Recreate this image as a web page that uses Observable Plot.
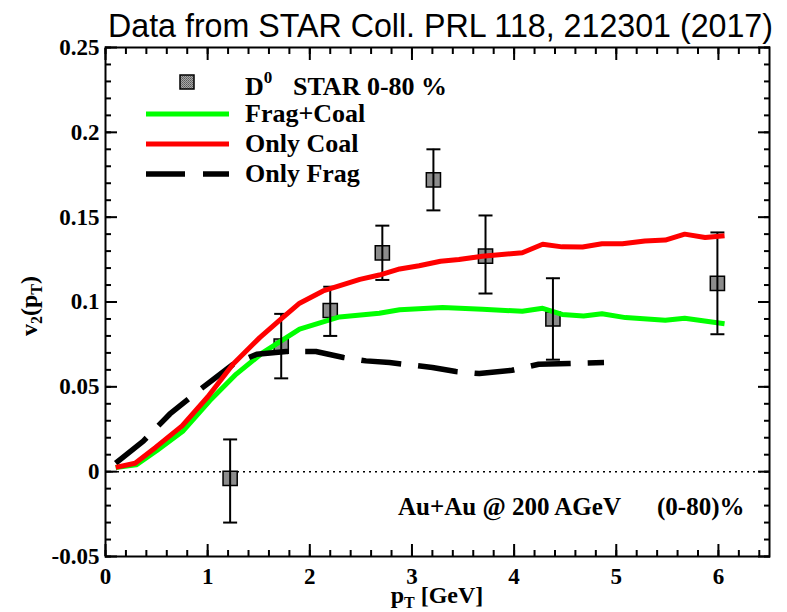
<!DOCTYPE html>
<html><head><meta charset="utf-8">
<script src="https://cdn.jsdelivr.net/npm/d3@7"></script>
<script src="https://cdn.jsdelivr.net/npm/@observablehq/plot@0.6"></script>
<style>body{margin:0;background:#fff}</style>
</head><body><div id="chart"></div>
<script>
// STAR D0 data (0-80%)
const starPt = [1.22, 1.72, 2.20, 2.71, 3.21, 3.72, 4.38, 5.99];
const starV2 = [-0.004, 0.074, 0.095, 0.129, 0.172, 0.127, 0.090, 0.111];
const starLo = [-0.030, 0.055, 0.080, 0.113, 0.154, 0.105, 0.066, 0.081];
const starHi = [0.019, 0.093, 0.109, 0.145, 0.190, 0.151, 0.114, 0.141];

// Frag+Coal
const fcPt = [0.1, 0.3, 0.5, 0.76, 1.02, 1.28, 1.54, 1.9, 2.29, 2.68, 2.88, 3.30, 3.69, 4.08, 4.28, 4.47, 4.68, 4.86, 5.09, 5.48, 5.67, 6.06];
const fcV2 = [0.0025, 0.004, 0.0124, 0.024, 0.0418, 0.0575, 0.0702, 0.084, 0.0912, 0.0934, 0.0954, 0.0967, 0.0957, 0.0945, 0.0963, 0.0927, 0.0918, 0.0931, 0.0908, 0.0892, 0.0904, 0.0872];

// Only Coal
const coPt = [0.1, 0.29, 0.49, 0.75, 1.0, 1.25, 1.51, 1.7, 1.9, 2.13, 2.49, 2.68, 2.88, 3.07, 3.28, 3.46, 3.69, 4.08, 4.28, 4.47, 4.67, 4.86, 5.06, 5.28, 5.48, 5.67, 5.87, 6.06];
const coV2 = [0.0025, 0.005, 0.0143, 0.027, 0.044, 0.0635, 0.079, 0.089, 0.0993, 0.1065, 0.1133, 0.1159, 0.1195, 0.1214, 0.124, 0.125, 0.127, 0.129, 0.134, 0.1325, 0.1324, 0.1343, 0.1343, 0.136, 0.1365, 0.140, 0.138, 0.139];

// Only Frag
const frPt = [0.1, 0.37, 0.63, 0.93, 1.25, 1.48, 1.77, 2.06, 2.33, 2.55, 2.78, 3.2, 3.43, 3.66, 3.98, 4.24, 4.54, 4.88];
const frV2 = [0.005, 0.018, 0.034, 0.0486, 0.0633, 0.0692, 0.0708, 0.0708, 0.0673, 0.0653, 0.0643, 0.0614, 0.059, 0.0578, 0.0598, 0.0633, 0.0637, 0.0643];

// Axis ticks
const xMajor = [0, 1, 2, 3, 4, 5, 6];
const xMinor = d3.range(0, 6.5001, 0.2).map(d => +d.toFixed(2));
const yMajor = [-0.05, 0, 0.05, 0.1, 0.15, 0.2, 0.25];
const yMinor = d3.range(-0.05, 0.2501, 0.01).map(d => +d.toFixed(3));

const stars = starPt.map((x, i) => ({x, y: starV2[i], lo: starLo[i], hi: starHi[i]}));
const toRows = (xs, ys) => xs.map((x, i) => ({x, y: ys[i]}));
const fragCoal = toRows(fcPt, fcV2);
const onlyCoal = toRows(coPt, coV2);
const onlyFrag = toRows(frPt, frV2);

const serif = "'Liberation Serif','Times New Roman',serif";
const sans = "'Liberation Sans',Arial,sans-serif";
const GREEN = "#00ff00", RED = "#ff0000", GRAY = "#8c8c8c";
const cap = {draw(ctx, size) { const r = Math.sqrt(size / Math.PI); ctx.moveTo(-r, 0); ctx.lineTo(r, 0); }};
const fmt = d => String(+(+d).toFixed(2));
const axText = {fontSize: 23, fontWeight: "bold", fontFamily: serif, fill: "black"};

const svg = Plot.plot({
  width: 787, height: 612,
  marginLeft: 105, marginRight: 18, marginTop: 47, marginBottom: 56,
  style: {fontFamily: serif, background: "white", overflow: "visible"},
  x: {domain: [0, 6.5]},
  y: {domain: [-0.05, 0.25]},
  marks: [
    Plot.ruleY([0], {stroke: "black", strokeWidth: 1.5, strokeDasharray: "2,4"}),
    Plot.dot(stars, {x: "x", y: "y", symbol: "square", r: 8, fill: GRAY, stroke: "black", strokeWidth: 1.5, ariaLabel: "star-points"}),
    Plot.line(fragCoal, {x: "x", y: "y", stroke: GREEN, strokeWidth: 5, strokeLinecap: "butt"}),
    Plot.line(onlyFrag, {x: "x", y: "y", stroke: "black", strokeWidth: 5.5, strokeDasharray: "40,17", strokeLinecap: "butt"}),
    Plot.ruleX(stars, {x: "x", y1: "lo", y2: "hi", stroke: "black", strokeWidth: 2}),
    Plot.dot(stars, {x: "x", y: "lo", symbol: cap, r: 7, stroke: "black", strokeWidth: 2, fill: "none"}),
    Plot.dot(stars, {x: "x", y: "hi", symbol: cap, r: 7, stroke: "black", strokeWidth: 2, fill: "none"}),
    Plot.line(onlyCoal, {x: "x", y: "y", stroke: RED, strokeWidth: 5, strokeLinecap: "butt"}),
    Plot.axisX(xMajor, {anchor: "bottom", tickSize: -12, tickPadding: 23, tickFormat: fmt, strokeWidth: 2, label: null, ...axText}),
    Plot.axisX(xMinor, {anchor: "bottom", tickSize: -6, tickFormat: () => "", strokeWidth: 2, label: null}),
    Plot.axisX(xMajor, {anchor: "top", tickSize: -12, tickFormat: () => "", strokeWidth: 2, label: null}),
    Plot.axisX(xMinor, {anchor: "top", tickSize: -6, tickFormat: () => "", strokeWidth: 2, label: null}),
    Plot.axisY(yMajor, {anchor: "left", tickSize: -12, tickPadding: 18, tickFormat: fmt, strokeWidth: 2, label: null, ...axText}),
    Plot.axisY(yMinor, {anchor: "left", tickSize: -6, tickFormat: () => "", strokeWidth: 2, label: null}),
    Plot.axisY(yMajor, {anchor: "right", tickSize: -12, tickFormat: () => "", strokeWidth: 2, label: null}),
    Plot.axisY(yMinor, {anchor: "right", tickSize: -6, tickFormat: () => "", strokeWidth: 2, label: null}),
    Plot.frame({stroke: "black", strokeWidth: 2})
  ]
});

const s = d3.select(svg);
// stippled grey fill for the data squares
const pat = s.append("defs").append("pattern").attr("id", "stipple")
  .attr("width", 2).attr("height", 2).attr("patternUnits", "userSpaceOnUse");
pat.append("rect").attr("width", 2).attr("height", 2).attr("fill", "#a8a8a8");
pat.append("rect").attr("width", 1).attr("height", 1).attr("fill", "#5a5a5a");
pat.append("rect").attr("x", 1).attr("y", 1).attr("width", 1).attr("height", 1).attr("fill", "#6e6e6e");
s.selectAll('[aria-label="star-points"]').attr("fill", "url(#stipple)")
  .selectAll("path").attr("fill", "url(#stipple)").style("fill", "url(#stipple)");

// Title
s.append("text").attr("x", 108).attr("y", 37).attr("text-anchor", "start")
  .attr("font-family", sans).attr("font-size", 33).attr("fill", "black")
  .attr("textLength", 665).attr("lengthAdjust", "spacingAndGlyphs")
  .text("Data from STAR Coll. PRL 118, 212301 (2017)");

// Axis titles
const xl = s.append("text").attr("x", 437).attr("y", 603).attr("text-anchor", "middle")
  .attr("font-family", serif).attr("font-weight", "bold").attr("font-size", 24).attr("fill", "black");
xl.append("tspan").text("p");
xl.append("tspan").attr("font-size", 16).attr("dy", 5).text("T");
xl.append("tspan").attr("dy", -5).text(" [GeV]");

const yl = s.append("text").attr("transform", "translate(37,306) rotate(-90)").attr("text-anchor", "middle")
  .attr("font-family", serif).attr("font-weight", "bold").attr("font-size", 24).attr("fill", "black");
yl.append("tspan").text("v");
yl.append("tspan").attr("font-size", 16).attr("dy", 5).text("2");
yl.append("tspan").attr("dy", -5).text("(p");
yl.append("tspan").attr("font-size", 16).attr("dy", 5).text("T");
yl.append("tspan").attr("dy", -5).text(")");

// Legend
const lg = s.append("g").attr("font-family", serif).attr("font-weight", "bold").attr("font-size", 26)
  .attr("fill", "black").attr("text-anchor", "start");
lg.append("rect").attr("x", 180).attr("y", 75).attr("width", 14).attr("height", 14)
  .attr("fill", "url(#stipple)").attr("stroke", "black").attr("stroke-width", 1.5);
const t0 = lg.append("text").attr("x", 245).attr("y", 95);
t0.append("tspan").text("D");
t0.append("tspan").attr("font-size", 17).attr("dy", -12).text("0");
t0.append("tspan").attr("x", 293).attr("dy", 12).text("STAR 0-80 %");
lg.append("line").attr("x1", 146).attr("x2", 229).attr("y1", 114).attr("y2", 114).attr("stroke", GREEN).attr("stroke-width", 5);
lg.append("line").attr("x1", 146).attr("x2", 229).attr("y1", 144).attr("y2", 144).attr("stroke", RED).attr("stroke-width", 5);
lg.append("line").attr("x1", 146).attr("x2", 229).attr("y1", 174).attr("y2", 174).attr("stroke", "black").attr("stroke-width", 5.5).attr("stroke-dasharray", "39,18");
lg.append("text").attr("x", 245).attr("y", 122).text("Frag+Coal");
lg.append("text").attr("x", 245).attr("y", 152).text("Only Coal");
lg.append("text").attr("x", 245).attr("y", 182).text("Only Frag");

// Annotation
const an = s.append("text").attr("y", 515).attr("text-anchor", "start").attr("font-family", serif)
  .attr("font-weight", "bold").attr("font-size", 25).attr("fill", "black");
an.append("tspan").attr("x", 398).text("Au+Au @ 200 AGeV");
an.append("tspan").attr("x", 657).text("(0-80)%");

document.getElementById("chart").appendChild(svg);
</script>
</body></html>
